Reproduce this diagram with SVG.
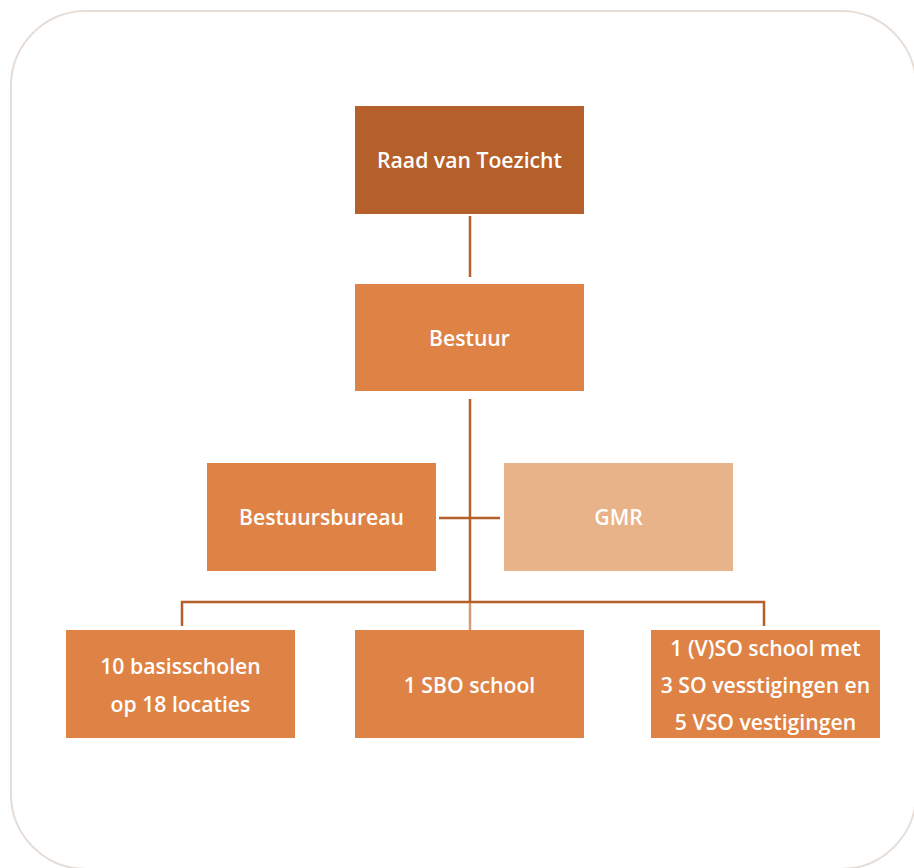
<svg xmlns="http://www.w3.org/2000/svg" width="914" height="868" viewBox="0 0 914 868">
<style>
.frame{fill:#ffffff;stroke:#e6ddd7;stroke-width:2}
.dark{fill:#b5602a}
.mid{fill:#de8345}
.light{fill:#e8b389}
.lbl{font-family:"Open Sans","Noto Sans",sans-serif;font-weight:600;font-size:21.2px;fill:#ffffff;text-anchor:middle;dominant-baseline:central}
.con{stroke:#b5602a;stroke-width:2.5;fill:none}
.con2{stroke:#d49a78;stroke-width:2.5;fill:none}
</style>
<rect class="frame" x="11" y="11" width="905" height="858" rx="75" ry="75"/>
<g id="connectors">
<line class="con" x1="470" y1="216" x2="470" y2="277"/>
<line class="con" x1="470" y1="399" x2="470" y2="602"/>
<line class="con" x1="439" y1="518" x2="500" y2="518"/>
<polyline class="con" points="182,626 182,602 764,602 764,626"/>
<line class="con2" x1="470" y1="603" x2="470" y2="630"/>
</g>
<g id="raad">
<rect class="dark" x="355" y="106" width="229" height="108"/>
<text class="lbl" x="469.5" y="159">Raad van Toezicht</text>
</g>
<g id="bestuur">
<rect class="mid" x="355" y="284" width="229" height="107"/>
<text class="lbl" x="469.5" y="337">Bestuur</text>
</g>
<g id="bestuursbureau">
<rect class="mid" x="207" y="463" width="229" height="108"/>
<text class="lbl" x="321.5" y="516">Bestuursbureau</text>
</g>
<g id="gmr">
<rect class="light" x="504" y="463" width="229" height="108"/>
<text class="lbl" x="618.5" y="516">GMR</text>
</g>
<g id="basisscholen">
<rect class="mid" x="66" y="630" width="229" height="108"/>
<text class="lbl" x="180.5" y="665">10 basisscholen</text>
<text class="lbl" x="180.5" y="703">op 18 locaties</text>
</g>
<g id="sbo">
<rect class="mid" x="355" y="630" width="229" height="108"/>
<text class="lbl" x="469.5" y="684">1 SBO school</text>
</g>
<g id="vso">
<rect class="mid" x="651" y="630" width="229" height="108"/>
<text class="lbl" x="765.5" y="647">1 (V)SO school met</text>
<text class="lbl" x="765.5" y="684">3 SO vesstigingen en</text>
<text class="lbl" x="765.5" y="721">5 VSO vestigingen</text>
</g>
</svg>
